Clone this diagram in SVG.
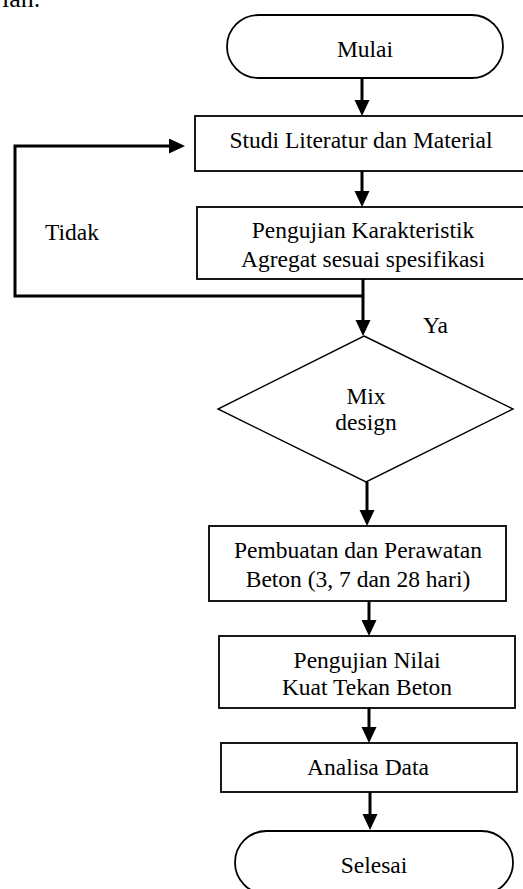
<svg xmlns="http://www.w3.org/2000/svg" width="523" height="889" viewBox="0 0 523 889">
<defs>
<style>
text{font-family:"Liberation Serif","Times New Roman",serif;font-size:23.5px;fill:#000;text-anchor:middle}
.shape{fill:#fff;stroke:#000;stroke-width:1.8}
.dia{fill:#fff;stroke:#000;stroke-width:1.4}
.conn{fill:none;stroke:#000;stroke-width:3}
.lbl{text-anchor:start}
</style>
<marker id="ah" markerUnits="userSpaceOnUse" markerWidth="16" markerHeight="16" refX="12" refY="7.5" orient="auto">
<path d="M0,0 L16,7.5 L0,15 z" fill="#000"/>
</marker>
</defs>
<rect width="523" height="889" fill="#fff"/>
<text class="lbl" x="2" y="7" style="font-size:26px">ian.</text>

<g id="connectors">
<line class="conn" x1="362" y1="78" x2="362" y2="112" marker-end="url(#ah)"/>
<line class="conn" x1="362" y1="171" x2="362" y2="203" marker-end="url(#ah)"/>
<path class="conn" d="M363,279 V332" marker-end="url(#ah)"/>
<path class="conn" d="M363,296 H15 V146 H181" marker-end="url(#ah)"/>
<line class="conn" x1="367" y1="482" x2="367" y2="522" marker-end="url(#ah)"/>
<line class="conn" x1="369" y1="601" x2="369" y2="632" marker-end="url(#ah)"/>
<line class="conn" x1="369" y1="708" x2="369" y2="739" marker-end="url(#ah)"/>
<line class="conn" x1="370" y1="792" x2="370" y2="826" marker-end="url(#ah)"/>
<text class="lbl" x="45" y="240">Tidak</text>
<text class="lbl" x="423" y="333">Ya</text>
</g>

<g id="mulai">
<rect class="shape" x="227" y="15" width="276" height="63" rx="31.5"/>
<text x="365" y="57">Mulai</text>
</g>

<g id="studi">
<rect class="shape" x="195" y="116" width="333" height="55"/>
<text x="361" y="148">Studi Literatur dan Material</text>
</g>

<g id="pengujian-agregat">
<rect class="shape" x="197" y="207" width="330" height="72"/>
<text x="363" y="238">Pengujian Karakteristik</text>
<text x="363" y="267">Agregat sesuai spesifikasi</text>
</g>

<g id="mix-design">
<polygon class="dia" points="364,336 513,409 366,482 218,409"/>
<text x="366" y="404">Mix</text>
<text x="366" y="430">design</text>
</g>

<g id="pembuatan">
<rect class="shape" x="209" y="526" width="297" height="75"/>
<text x="358" y="558">Pembuatan dan Perawatan</text>
<text x="358" y="587">Beton (3, 7 dan 28 hari)</text>
</g>

<g id="pengujian-nilai">
<rect class="shape" x="219" y="636" width="296" height="72"/>
<text x="367" y="668">Pengujian Nilai</text>
<text x="367" y="695">Kuat Tekan Beton</text>
</g>

<g id="analisa">
<rect class="shape" x="221" y="743" width="296" height="49"/>
<text x="368" y="775">Analisa Data</text>
</g>

<g id="selesai">
<rect class="shape" x="235" y="831" width="278" height="63" rx="31.5"/>
<text x="374" y="873">Selesai</text>
</g>
</svg>
